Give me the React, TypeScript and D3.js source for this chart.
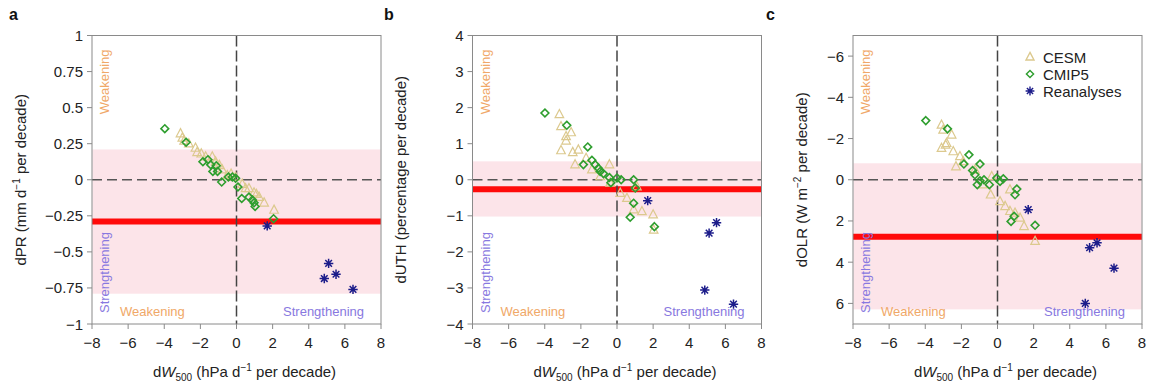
import React from 'react';
import * as d3 from 'd3';

// ---------- data ----------
const xTicks = [-8, -6, -4, -2, 0, 2, 4, 6, 8];
const prTicks = [1, 0.75, 0.5, 0.25, 0, -0.25, -0.5, -0.75, -1];
const uthTicks = [4, 3, 2, 1, 0, -1, -2, -3, -4];
const olrTicks = [-6, -4, -2, 0, 2, 4, 6];

const legendLabels = ['CESM', 'CMIP5', 'Reanalyses'];

// Reanalyses dW500 (shared by all panels)
const reanalysesDW = [1.7, 5.1, 4.86, 5.51, 6.45];
const prReanalyses = [-0.32, -0.58, -0.685, -0.655, -0.76];
const uthReanalyses = [-0.58, -1.48, -3.06, -1.19, -3.45];
const olrReanalyses = [1.45, 3.3, 6.0, 3.06, 4.29];

// Panel a: dPR
const prCMIP5: [number, number][] = [
  [-3.97, 0.354], [-2.79, 0.26], [-1.86, 0.125], [-1.58, 0.139], [-1.43, 0.104], [-1.12, 0.097],
  [-1.31, 0.058], [-1.05, 0.058], [-0.82, -0.016], [-0.45, 0.019], [-0.23, 0.019], [-0.05, 0.01],
  [0.08, -0.05], [0.29, -0.13], [0.69, -0.12], [0.88, -0.14], [0.97, -0.16], [1.03, -0.185], [2.05, -0.27],
];
const prCESM: [number, number][] = [
  [-3.1, 0.32], [-3.0, 0.29], [-2.9, 0.27], [-2.64, 0.25], [-2.27, 0.22], [-2.18, 0.19], [-1.95, 0.18],
  [-1.71, 0.16], [-1.34, 0.16], [-1.16, 0.125], [-0.95, 0.1], [-0.79, 0.07], [-0.51, 0.03], [-0.3, 0.04],
  [-0.05, 0.02], [0.32, -0.03], [0.5, -0.06], [0.69, -0.06], [0.97, -0.09], [1.1, -0.1], [1.25, -0.12],
  [1.53, -0.16], [2.08, -0.21],
];
const prBand = [0.21, -0.79];
const prMean = -0.29;

// Panel b: dUTH
const uthCMIP5: [number, number][] = [
  [-3.99, 1.85], [-2.78, 1.51], [-1.62, 0.91], [-1.86, 0.42], [-1.39, 0.54], [-1.21, 0.42], [-1.03, 0.32],
  [-0.93, 0.23], [-0.75, 0.17], [-0.42, 0.06], [-0.34, -0.08], [0, 0.05], [0.23, 0], [0.92, 0],
  [1.01, -0.23], [0.92, -0.65], [0.73, -1.04], [2.07, -1.3],
];
const uthCESM: [number, number][] = [
  [-3.19, 1.81], [-3.1, 1.48], [-2.82, 1.2], [-2.54, 1.31], [-2.82, 1.08], [-3.1, 0.81], [-2.45, 0.76],
  [-2.14, 0.83], [-2.32, 0.42], [-1.71, 0.6], [-1.39, 0.28], [-0.93, 0.09], [-0.42, 0.42], [-0.38, -0.09],
  [0.18, -0.37], [0.55, -0.51], [0.92, -0.83], [1.38, -0.88], [2.0, -0.97], [2.03, -1.39], [1.1, -0.19],
];
const uthBand = [0.51, -1.02];
const uthMean = -0.26;

// Panel c: dOLR (axis reversed)
const olrCMIP5: [number, number][] = [
  [-3.97, -2.87], [-2.77, -2.47], [-1.58, -1.21], [-1.86, -0.76], [-0.97, -0.76], [-1.38, -0.45],
  [-1.25, -0.24], [-0.97, 0.05], [-1.12, 0.24], [-0.75, 0], [-0.45, 0.24], [-0.04, -0.08], [0.32, -0.05],
  [0.14, 0.08], [1.07, 0.45], [0.97, 0.73], [0.92, 1.77], [0.75, 2.02], [2.08, 2.21],
];
const olrCESM: [number, number][] = [
  [-3.1, -2.66], [-3.01, -2.42], [-2.54, -2.18], [-2.82, -1.77], [-3.1, -1.53], [-2.87, -1.69],
  [-2.45, -1.37], [-2.08, -1.13], [-2.3, -0.64], [-1.9, -0.89], [-1.25, -0.48], [-0.82, 0.24],
  [-0.32, -0.16], [-0.38, 0.73], [0.14, 1.05], [0.42, 1.29], [0.69, 1.53], [0.97, 1.61], [1.25, 1.85],
  [1.47, 2.26], [2.08, 2.98], [0.69, 0.48],
];
const olrBand = [-0.8, 6.29];
const olrMean = 2.77;

// ---------- layout / style ----------
const W = 1149;
const H = 384;
const TOP = 35.5;
const BOTTOM = 324;
const PW = 289;
const FONT = '"Liberation Sans", Arial, Helvetica, sans-serif';
const ORANGE = '#F0A868';
const PURPLE = '#8878E0';
const CESM_COL = '#DCC98E';
const CMIP_COL = '#2E9E2E';
const REA_COL = '#1C1C8A';

const fmt = (v: number) => String(v).replace('-', '\u2212');

const triPath = (s: number) => `M0,${-s * 1.15}L${s},${s * 0.75}L${-s},${s * 0.75}Z`;
const diaPath = (s: number) => `M0,${-s}L${s},0L0,${s}L${-s},0Z`;
const starPath = (r: number) => {
  let p = '';
  for (let i = 0; i < 4; i++) {
    const a = (i * Math.PI) / 4;
    const dx = r * Math.cos(a), dy = r * Math.sin(a);
    p += `M${-dx},${-dy}L${dx},${dy}`;
  }
  return p;
};

type PanelProps = {
  letter: string;
  left: number;
  letterX: number;
  yDomain: [number, number];
  yTicks: number[];
  band: number[];
  mean: number;
  cesm: [number, number][];
  cmip: [number, number][];
  rea: number[];
  titleX: number;
  title: React.ReactNode;
  legend?: boolean;
};

function Panel(p: PanelProps) {
  const x = d3.scaleLinear().domain([-8, 8]).range([p.left, p.left + PW]);
  const y = d3.scaleLinear().domain(p.yDomain).range([BOTTOM, TOP]);
  const right = p.left + PW;
  const bandY = [y(p.band[0]), y(p.band[1])];
  return (
    <g>
      <text x={p.letterX} y={20} fontSize={16} fontWeight="bold" fontFamily={FONT} fill="#111">{p.letter}</text>
      {/* band */}
      <rect x={p.left + 0.5} y={Math.min(...bandY)} width={PW - 1} height={Math.abs(bandY[1] - bandY[0])} fill="#FCE4E9" />
      {/* mean line */}
      <line x1={p.left} x2={right} y1={y(p.mean)} y2={y(p.mean)} stroke="#FF0A0A" strokeWidth={6} />
      {/* zero lines */}
      <line x1={p.left} x2={right} y1={y(0)} y2={y(0)} stroke="#555" strokeWidth={1.5} strokeDasharray="10,5" />
      <line x1={x(0)} x2={x(0)} y1={TOP} y2={BOTTOM} stroke="#444" strokeWidth={1.5} strokeDasharray="11,4" />
      {/* points */}
      {p.cesm.map((d, i) => (
        <path key={'t' + i} d={triPath(4.3)} transform={`translate(${x(d[0])},${y(d[1])})`} fill="none" stroke={CESM_COL} strokeWidth={1.2} />
      ))}
      {p.cmip.map((d, i) => (
        <path key={'d' + i} d={diaPath(3.9)} transform={`translate(${x(d[0])},${y(d[1])})`} fill="none" stroke={CMIP_COL} strokeWidth={1.6} />
      ))}
      {p.rea.map((v, i) => (
        <path key={'s' + i} d={starPath(4.7)} transform={`translate(${x(reanalysesDW[i])},${y(v)})`} fill="none" stroke={REA_COL} strokeWidth={1.5} />
      ))}
      {/* frame */}
      <rect x={p.left} y={TOP} width={PW} height={BOTTOM - TOP} fill="none" stroke="#8a8a8a" strokeWidth={1} />
      {/* y ticks */}
      {p.yTicks.map((t) => (
        <g key={'yt' + t}>
          <line x1={p.left - 5} x2={p.left} y1={y(t)} y2={y(t)} stroke="#8a8a8a" />
          <text x={p.left - 9} y={y(t) + 5.5} textAnchor="end" fontSize={15} fontFamily={FONT} fill="#222">{fmt(t)}</text>
        </g>
      ))}
      {/* x ticks */}
      {xTicks.map((t) => (
        <g key={'xt' + t}>
          <line x1={x(t)} x2={x(t)} y1={BOTTOM} y2={BOTTOM + 5} stroke="#8a8a8a" />
          <text x={x(t)} y={BOTTOM + 24} textAnchor="middle" fontSize={15} fontFamily={FONT} fill="#222">{fmt(t)}</text>
        </g>
      ))}
      {/* annotations */}
      <text transform={`translate(${p.left + 17},${TOP + 14}) rotate(-90)`} textAnchor="end" fontSize={13} fontFamily={FONT} fill={ORANGE}>Weakening</text>
      <text transform={`translate(${p.left + 17},${BOTTOM - 11}) rotate(-90)`} textAnchor="start" fontSize={13} fontFamily={FONT} fill={PURPLE}>Strengthening</text>
      <text x={p.left + 28} y={BOTTOM - 8} fontSize={13} fontFamily={FONT} fill={ORANGE}>Weakening</text>
      <text x={right - 17} y={BOTTOM - 8} textAnchor="end" fontSize={13} fontFamily={FONT} fill={PURPLE}>Strengthening</text>
      {/* y title */}
      <text transform={`translate(${p.titleX},${(TOP + BOTTOM) / 2}) rotate(-90)`} textAnchor="middle" fontSize={15} fontFamily={FONT} fill="#222">{p.title}</text>
      {/* x title */}
      <text x={(p.left + right) / 2 + 8} y={377} textAnchor="middle" fontSize={15} fontFamily={FONT} fill="#222">
        d<tspan fontStyle="italic">W</tspan>
        <tspan fontSize={10} dy={4}>500</tspan>
        <tspan dy={-4}> (hPa d</tspan>
        <tspan fontSize={10} dy={-6}>{'\u22121'}</tspan>
        <tspan dy={6}> per decade)</tspan>
      </text>
      {p.legend && (
        <g>
          {legendLabels.map((l, i) => {
            const ly = 57 + i * 17;
            const lx = right - 112;
            const sym = i === 0 ? triPath(4) : i === 1 ? diaPath(3.6) : starPath(4.4);
            const col = i === 0 ? CESM_COL : i === 1 ? CMIP_COL : REA_COL;
            return (
              <g key={l}>
                <path d={sym} transform={`translate(${lx},${ly})`} fill="none" stroke={col} strokeWidth={1.4} />
                <text x={lx + 13} y={ly + 5.5} fontSize={15} fontFamily={FONT} fill="#222">{l}</text>
              </g>
            );
          })}
        </g>
      )}
    </g>
  );
}

export default function App() {
  return (
    <svg width={W} height={H} style={{ position: 'absolute', left: 0, top: 0, background: '#fff' }}>
      <rect width={W} height={H} fill="#fff" />
      <Panel
        letter="a" left={92} letterX={9} yDomain={[-1, 1]} yTicks={prTicks} band={prBand} mean={prMean}
        cesm={prCESM} cmip={prCMIP5} rea={prReanalyses} titleX={26}
        title={<>dPR (mm d<tspan fontSize={10} dy={-6}>{'\u22121'}</tspan><tspan dy={6}> per decade)</tspan></>}
      />
      <Panel
        letter="b" left={472.5} letterX={384} yDomain={[-4, 4]} yTicks={uthTicks} band={uthBand} mean={uthMean}
        cesm={uthCESM} cmip={uthCMIP5} rea={uthReanalyses} titleX={406}
        title={<>dUTH (percentage per decade)</>}
      />
      <Panel
        letter="c" left={853} letterX={766} yDomain={[7, -7]} yTicks={olrTicks} band={olrBand} mean={olrMean}
        cesm={olrCESM} cmip={olrCMIP5} rea={olrReanalyses} titleX={807}
        title={<>dOLR (W m<tspan fontSize={10} dy={-6}>{'\u22122'}</tspan><tspan dy={6}> per decade)</tspan></>}
        legend
      />
    </svg>
  );
}
